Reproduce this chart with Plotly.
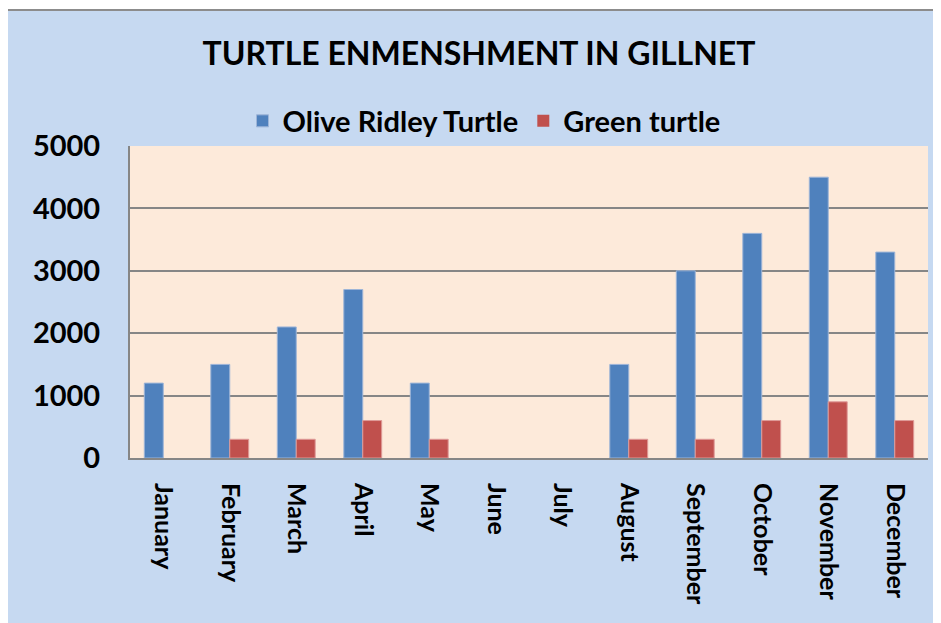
import plotly.graph_objects as go

months = ["January", "February", "March", "April", "May", "June", "July",
          "August", "September", "October", "November", "December"]
olive_ridley = [1200, 1500, 2100, 2700, 1200, 0, 0, 1500, 3000, 3600, 4500, 3300]
green_turtle = [0, 300, 300, 600, 300, 0, 0, 300, 300, 600, 900, 600]
y_ticks = [0, 1000, 2000, 3000, 4000, 5000]

# page body has an 8px margin: build figure so window coords match
OFF = 8
WIN_W, WIN_H = 941, 623
W, H = WIN_W - OFF, WIN_H - OFF
PL, PR, PT, PB = 130, 928, 146, 458   # plot area in window coords
L, R, T, B = PL - OFF, WIN_W - PR, PT - OFF, WIN_H - PB

def px_x(px):
    return (px - PL) / (PR - PL)

def px_y(py):
    return (PB - py) / (PB - PT)

FONT = "Lato"

def lw(vals):
    return [0 if v == 0 else 1 for v in vals]

fig = go.Figure()
fig.add_trace(go.Bar(x=months, y=olive_ridley, name="Olive Ridley Turtle",
                     marker=dict(color="#4F81BD", line=dict(color="#9DB5D8", width=lw(olive_ridley)))))
fig.add_trace(go.Bar(x=months, y=green_turtle, name="Green turtle",
                     marker=dict(color="#C0504D", line=dict(color="#DE9A98", width=lw(green_turtle)))))

fig.update_layout(
    width=W, height=H,
    margin=dict(l=L, r=R, t=T, b=B),
    paper_bgcolor="#C6D9F1",
    plot_bgcolor="#FDEADA",
    barmode="group", bargap=0.43, bargroupgap=0,
    title=dict(text="TURTLE ENMENSHMENT IN GILLNET", x=(479 - OFF) / W, xanchor="center",
               y=1 - (54 - OFF) / H, yanchor="middle", yref="container",
               font=dict(family=FONT, size=32, color="#000000", weight="bold")),
    legend=dict(orientation="h", x=px_x(484), xanchor="center", y=px_y(121), yanchor="middle",
                font=dict(family=FONT, size=29, color="#000000", weight="bold"),
                bgcolor="rgba(0,0,0,0)", itemwidth=30, traceorder="normal"),
    xaxis=dict(showline=True, linecolor="#868686", linewidth=2, showgrid=False,
               tickangle=90, ticks="", ticklabelstandoff=18,
               tickfont=dict(family=FONT, size=25, color="#000000", weight="bold")),
    yaxis=dict(range=[0, 5000], tickvals=y_ticks, showline=True, linecolor="#868686", linewidth=2,
               showgrid=True, gridcolor="#868686", gridwidth=1.5, zeroline=False,
               ticks="", ticklabelstandoff=22,
               tickfont=dict(family=FONT, size=29, color="#000000", weight="bold")),
    shapes=[
        dict(type="rect", xref="paper", yref="paper", x0=px_x(-20), x1=px_x(WIN_W + 20),
             y0=px_y(10), y1=px_y(-20), fillcolor="white", line=dict(width=0), layer="above"),
        dict(type="rect", xref="paper", yref="paper", x0=px_x(-20), x1=px_x(4),
             y0=px_y(WIN_H + 20), y1=px_y(-20), fillcolor="white", line=dict(width=0), layer="above"),
        dict(type="line", xref="paper", yref="paper", x0=px_x(4), x1=px_x(WIN_W + 20),
             y0=px_y(10), y1=px_y(10), line=dict(color="#8C8C8C", width=2), layer="above"),
        dict(type="line", xref="paper", yref="paper", x0=px_x(4), x1=px_x(4),
             y0=px_y(10), y1=px_y(WIN_H + 20), line=dict(color="#8C8C8C", width=2), layer="above"),
    ],
)

fig.write_html("out.html")
